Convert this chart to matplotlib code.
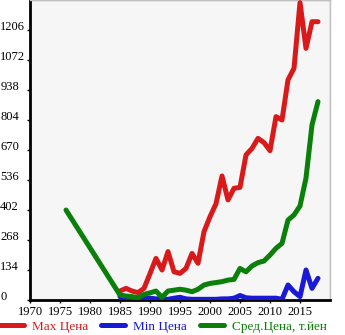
import matplotlib
matplotlib.use('Agg')
import numpy as np
from matplotlib import pyplot as plt
from matplotlib import transforms

plt.rcParams['font.family'] = ['Liberation Serif', 'DejaVu Serif']

# prices by model year
years_max = np.arange(1985, 2019)
max_price = [40, 52, 40, 33, 52, 118, 186, 134, 216, 126, 119, 141, 208, 164,
             305, 372, 430, 554, 447, 499, 503, 648, 677, 722, 703, 667, 819,
             804, 983, 1035, 1328, 1124, 1243, 1243]

years_min = np.arange(1985, 2019)
min_price = [15, 10, 8, 5, 10, 8, 5, 5, 3, 8, 12, 5, 3, 3, 3, 3, 3, 5, 5, 8,
             20, 10, 8, 8, 8, 8, 8, 3, 67, 37, 15, 134, 52, 97]

years_avg = np.concatenate([[1976], np.arange(1985, 2019)])
avg_price = [402, 22, 18, 15, 10, 25, 32, 40, 12, 40, 44, 48, 44, 37, 48, 67,
             74, 78, 82, 89, 92, 141, 126, 152, 167, 174, 201, 231, 253,
             357, 380, 420, 545, 782, 886]

yticks = [0, 134, 268, 402, 536, 670, 804, 938, 1072, 1206]
xticks = [1970, 1975, 1980, 1985, 1990, 1995, 2000, 2005, 2010, 2015]

red = '#d91a1a'
blue = '#1a1ad6'
green = '#0a800a'

fig = plt.figure(figsize=(3.45, 3.35), dpi=100)
ax = fig.add_axes([30 / 345, 35 / 335, 300 / 345, 300 / 335])
ax.set_facecolor('#f6f6f6')

lw = 3.6
ax.plot(years_max, max_price, color=red, lw=lw, solid_capstyle='round',
        solid_joinstyle='round', label='Max Цена', zorder=3)
ax.plot(years_min, min_price, color=blue, lw=lw, solid_capstyle='round',
        solid_joinstyle='round', label='Min Цена', zorder=3)
ax.plot(years_avg, avg_price, color=green, lw=lw, solid_capstyle='round',
        solid_joinstyle='round', label='Сред.Цена, т.йен', zorder=3)

ax.set_xlim(1970, 2020)
ax.set_ylim(0, 1340)
ax.set_xticks(xticks)
ax.set_yticks(yticks)
ax.set_xticks(np.arange(1970, 2021, 5), minor=True)
ax.set_yticks(np.arange(0, 1341, 134), minor=True)
ax.grid(which='minor', color='#c0c0c0', lw=1.0)
ax.set_axisbelow(True)

for side in ['top', 'right']:
    ax.spines[side].set_color('#c0c0c0')
    ax.spines[side].set_linewidth(1.0)
for side in ['left', 'bottom']:
    ax.spines[side].set_color('black')
    ax.spines[side].set_linewidth(2.0)

ax.tick_params(which='minor', length=0)
ax.tick_params(axis='y', length=2.5, width=1, pad=19, labelsize=9)
ax.tick_params(axis='x', length=2.5, width=1, pad=2, labelsize=9)
shift = transforms.ScaledTranslation(0, 4 / 100, fig.dpi_scale_trans)
for lab in ax.get_yticklabels():
    lab.set_ha('left')
    lab.set_transform(lab.get_transform() + shift)

leg = fig.legend(loc='lower left', bbox_to_anchor=(-0.005, 0.0), ncol=3,
                 frameon=False, fontsize=9.5, handlelength=1.8,
                 handletextpad=0.6, columnspacing=1.0, borderpad=0.15,
                 borderaxespad=0, labelcolor='linecolor')

fig.savefig('out.png', dpi=100)
